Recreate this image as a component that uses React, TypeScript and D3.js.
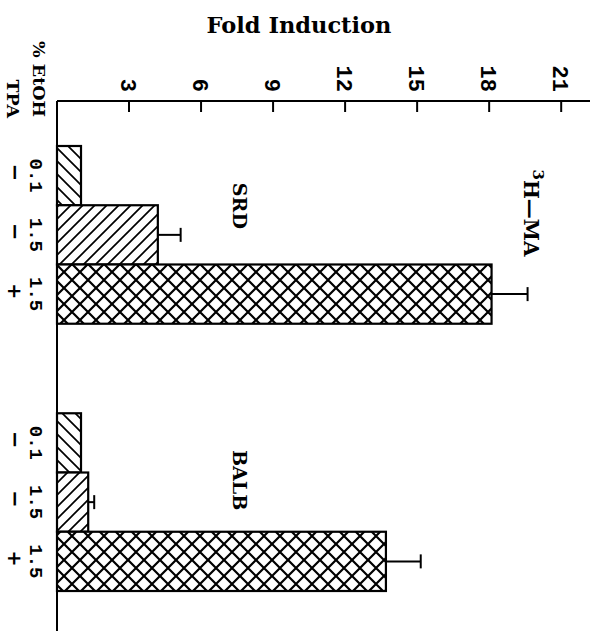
import React from "react";
import * as d3 from "d3";

// Fold induction of 3H-MA for two cell lines, three treatment conditions each
const groups = ["SRD", "BALB"];
const conditions = ["c1", "c2", "c3"];
const ethanolLabels = ["0.1", "1.5", "1.5"];
const tpaLabels = ["\u2212", "\u2212", "+"];
const srdValues = [1.0, 4.2, 18.1];
const srdErrors = [0, 0.95, 1.5];
const balbValues = [1.0, 1.3, 13.7];
const balbErrors = [0, 0.25, 1.45];
const tickValues = [3, 6, 9, 12, 15, 18, 21];

const W = 593;
const H = 633;
const axisY = 101;
const axisX = 57;

const serif = "'DejaVu Serif', serif";
const mono = "'Liberation Mono', monospace";
const sans = "'DejaVu Sans', sans-serif";

export default function App() {
  const x = d3.scaleLinear().domain([0, 22.2]).range([axisX, 590]);
  const gScale = d3.scaleBand<string>().domain(groups).range([146, 591]).paddingInner(0.335);
  const cScale = d3.scaleBand<string>().domain(conditions).range([0, gScale.bandwidth()]);

  const series = [
    { name: "SRD", values: srdValues, errors: srdErrors },
    { name: "BALB", values: balbValues, errors: balbErrors },
  ];
  const fills = ["url(#hatchBack)", "url(#hatchFwd)", "url(#hatchCross)"];

  return (
    <svg width={W} height={H} style={{ position: "absolute", left: 0, top: 0, background: "#fff" }}>
      <defs>
        <pattern id="hatchBack" patternUnits="userSpaceOnUse" width={13} height={13}>
          <path d="M0,0 L13,13 M-4,9 L4,17 M9,-4 L17,4" stroke="#000" strokeWidth={1.7} />
        </pattern>
        <pattern id="hatchFwd" patternUnits="userSpaceOnUse" width={12} height={12}>
          <path d="M0,12 L12,0 M-4,4 L4,-4 M8,16 L16,8" stroke="#000" strokeWidth={1.7} />
        </pattern>
        <pattern id="hatchCross" patternUnits="userSpaceOnUse" width={16} height={16}>
          <path
            d="M0,0 L16,16 M-4,12 L4,20 M12,-4 L20,4 M0,16 L16,0 M-4,4 L4,-4 M12,20 L20,12"
            stroke="#000"
            strokeWidth={2.2}
          />
        </pattern>
      </defs>

      {/* title */}
      <text x={299} y={33} textAnchor="middle" fontFamily={serif} fontWeight="bold" fontSize={22.5}>
        Fold Induction
      </text>

      {/* value axis along the top */}
      <line x1={axisX} x2={590} y1={axisY} y2={axisY} stroke="#000" strokeWidth={2} />
      {tickValues.map((t) => (
        <g key={t}>
          <line x1={x(t)} x2={x(t)} y1={axisY} y2={axisY + 11} stroke="#000" strokeWidth={2} />
          <text
            transform={`translate(${x(t)},92) rotate(90)`}
            textAnchor="end"
            dy="0.35em"
            fontFamily={mono}
            fontWeight="bold"
            fontSize={22}
          >
            {t}
          </text>
        </g>
      ))}

      {/* category axis */}
      <line x1={axisX} x2={axisX} y1={axisY} y2={631} stroke="#000" strokeWidth={2} />

      {/* column headers */}
      <text transform="translate(39,117) rotate(90)" textAnchor="end" dy="0.35em" fontFamily={serif} fontWeight="bold" fontSize={17.5}>
        % EtOH
      </text>
      <text transform="translate(13,118) rotate(90)" textAnchor="end" dy="0.35em" fontFamily={serif} fontWeight="bold" fontSize={17.5}>
        TPA
      </text>

      {series.map((s) => {
        const gy = gScale(s.name) as number;
        return (
          <g key={s.name}>
            {conditions.map((c, i) => {
              const y0 = gy + (cScale(c) as number);
              const bw = cScale.bandwidth();
              const cy = y0 + bw / 2;
              const xv = x(s.values[i]);
              const err = s.errors[i];
              const isMinus = tpaLabels[i] === "\u2212";
              return (
                <g key={c}>
                  <rect x={axisX} y={y0} width={xv - axisX} height={bw} fill="#fff" />
                  <rect x={axisX} y={y0} width={xv - axisX} height={bw} fill={fills[i]} stroke="#000" strokeWidth={2.2} />
                  {err > 0 && (
                    <g stroke="#000" strokeWidth={2}>
                      <line x1={xv} x2={x(s.values[i] + err)} y1={cy} y2={cy} />
                      <line x1={x(s.values[i] + err)} x2={x(s.values[i] + err)} y1={cy - 7} y2={cy + 7} />
                    </g>
                  )}
                  <text
                    transform={`translate(37,${cy}) rotate(90)`}
                    textAnchor="middle"
                    dy="0.35em"
                    fontFamily={mono}
                    fontWeight="bold"
                    fontSize={19}
                  >
                    {ethanolLabels[i]}
                  </text>
                  <text
                    transform={`translate(14,${cy - 3}) rotate(90)`}
                    textAnchor="middle"
                    dy="0.3em"
                    fontFamily={sans}
                    fontWeight="bold"
                    fontSize={isMinus ? 21 : 19}
                  >
                    {tpaLabels[i]}
                  </text>
                </g>
              );
            })}
            <text
              transform={`translate(240,${gy + gScale.bandwidth() / 2 - (s.name === "SRD" ? 29 : 22)}) rotate(90)`}
              textAnchor="middle"
              dy="0.35em"
              fontFamily={serif}
              fontWeight="bold"
              fontSize={19}
            >
              {s.name}
            </text>
          </g>
        );
      })}

      {/* tracer label */}
      <text transform="translate(525,213) rotate(90)" textAnchor="middle" dy="0.35em" fontFamily={serif} fontWeight="bold" fontSize={20}>
        <tspan fontSize={15} dy="-0.5em">3</tspan>
        <tspan dy="0.45em">H{"\u2014"}MA</tspan>
      </text>
    </svg>
  );
}
